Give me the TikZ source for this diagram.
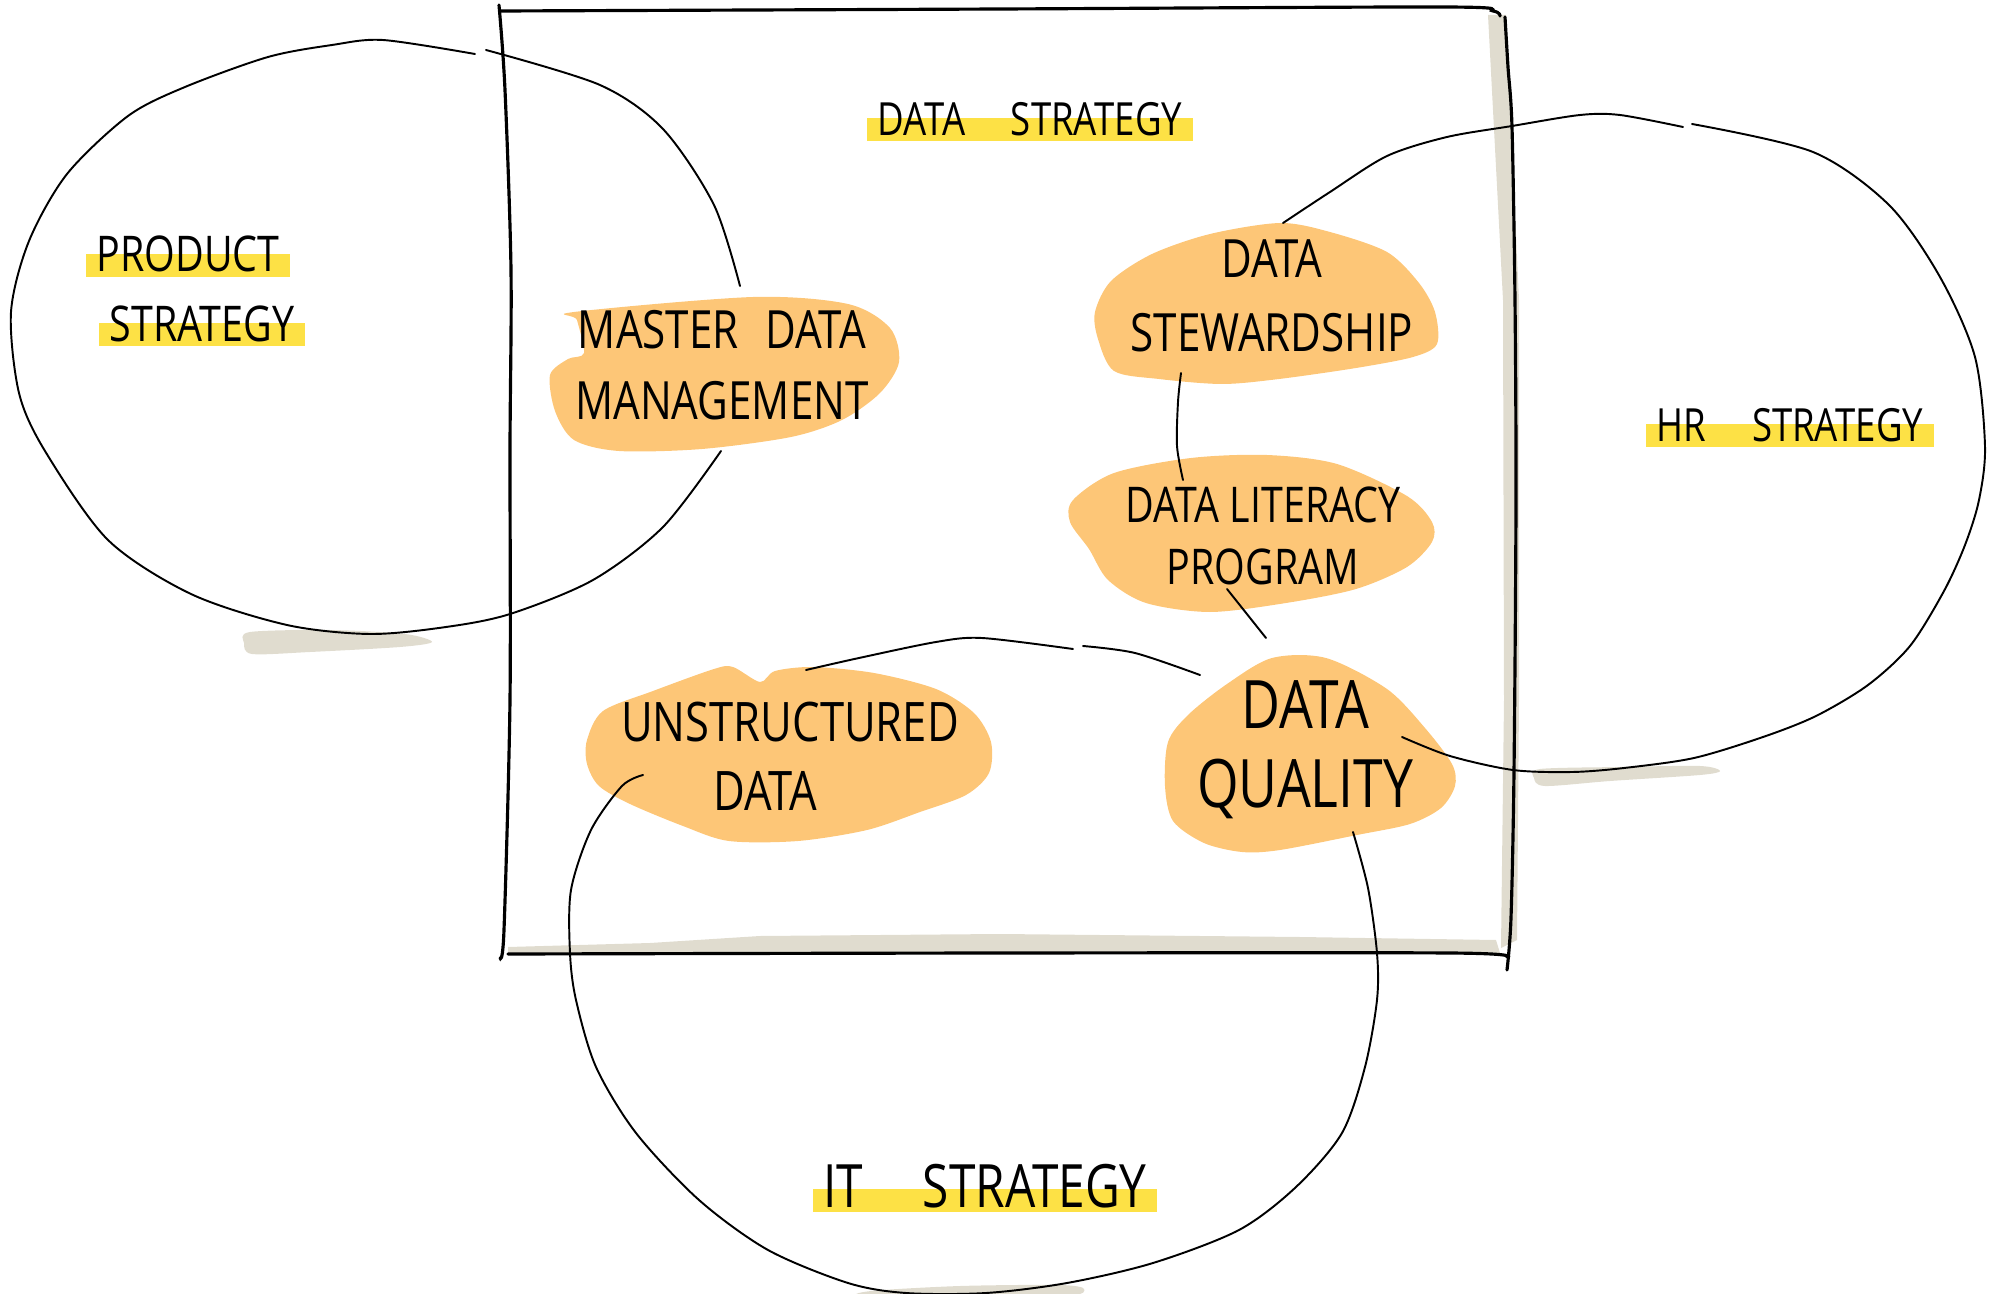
\documentclass[tikz,border=0pt]{standalone}
\usepackage{fontspec}
\newfontfamily\handfont{Open Sans}[FakeStretch=0.8]
\usepackage{tikz}
\definecolor{blobfill}{HTML}{FDC677}
\definecolor{hlyellow}{HTML}{FDE145}
\definecolor{smudge}{HTML}{E0DCCF}
\tikzset{
  sketch/frame/.style={black, line width=0.9pt, line cap=round},
  sketch/loop/.style={black, line width=0.55pt, line cap=round},
  sketch/hand/.style 2 args={font=\handfont\fontsize{#1}{#2}\selectfont, align=center},
  sketch/marker/.style={fill=hlyellow, inner xsep=3pt, inner ysep=0pt, text height=0.5em, text depth=0.15em, anchor=base},
}

\begin{document}
\begin{tikzpicture}[x=0.01cm, y=-0.01cm]
  \useasboundingbox (0,0) rectangle (1996,1294);
\fill[smudge] plot[smooth cycle] coordinates {(250,632) (330,630) (405,634) (432,642) (400,647) (310,652) (252,654) (244,643)};
\fill[smudge] plot[smooth cycle] coordinates {(1540,769) (1620,767) (1700,766) (1720,771) (1700,775) (1610,781) (1545,786) (1534,778)};
\fill[smudge] plot[smooth cycle] coordinates {(871,1291) (960,1286) (1060,1285) (1084,1289) (1060,1296) (871,1296)};
\fill[smudge] (1488,15) -- (1506,15) -- (1519,300) -- (1519,700) -- (1517,940) -- (1501,948) -- (1504,700) -- (1503,300) -- cycle;
\fill[smudge] (508,947) -- (650,943) -- (760,936) -- (1000,934) -- (1300,937) -- (1496,940) -- (1500,953) -- (508,953) -- cycle;
\draw[sketch/frame] plot[smooth] coordinates {(499,5) (505,90) (511,270) (510,450) (510,700) (504,930) (500,958)};
\draw[sketch/frame] plot[smooth] coordinates {(501,11) (1000,9) (1445,7) (1493,11) (1500,16)};
\draw[sketch/frame] plot[smooth] coordinates {(1505,17) (1508,67) (1512,127) (1515,300) (1516,500) (1514,772) (1511,918) (1507,970)};
\draw[sketch/frame] plot[smooth] coordinates {(508,954) (1000,953) (1450,953) (1507,957)};
\fill[blobfill] plot[smooth cycle] coordinates {(574,312) (753,297) (848,304) (890,328) (899,362) (880,393) (842,420) (791,437) (702,449) (619,451) (574,440) (555,411) (550,375) (568,359) (584,353) (577,320)};
\fill[blobfill] plot[smooth cycle] coordinates {(1210,234) (1280,223) (1330,232) (1387,252) (1419,283) (1435,312) (1437,344) (1413,357) (1356,368) (1279,379) (1222,384) (1159,379) (1114,371) (1098,339) (1095,312) (1111,281) (1152,254)};
\fill[blobfill] plot[smooth cycle] coordinates {(1114,473) (1191,458) (1267,455) (1337,464) (1407,496) (1432,522) (1432,542) (1407,567) (1356,589) (1286,603) (1210,612) (1146,603) (1108,580) (1089,549) (1070,522) (1073,500)};
\fill[blobfill] plot[smooth cycle] coordinates {(603,711) (653,691) (714,669) (733,667) (760,682) (775,671) (813,667) (874,673) (936,689) (974,713) (991,742) (989,773) (966,795) (920,812) (867,830) (798,841) (729,841) (683,826) (630,804) (599,786) (587,764) (587,740)};
\fill[blobfill] plot[smooth cycle] coordinates {(1272,658) (1326,658) (1387,689) (1425,728) (1452,764) (1455,786) (1441,808) (1410,824) (1357,835) (1280,850) (1242,852) (1204,843) (1173,821) (1165,786) (1168,742) (1188,715) (1227,684)};
\draw[sketch/loop] plot[smooth] coordinates {(475,54) (383,40) (332,45) (268,57) (185,87) (128,116) (67,174) (29,241) (11,312) (19,393) (45,451) (108,540) (191,594) (287,625) (370,634) (446,627) (510,614) (593,580) (663,527) (721,451)};
\draw[sketch/loop] plot[smooth] coordinates {(486,50) (600,85) (663,129) (714,205) (740,286)};
\draw[sketch/loop] plot[smooth] coordinates {(1283,223) (1330,192) (1387,156) (1447,137) (1512,126) (1580,115) (1620,115) (1683,127)};
\draw[sketch/loop] plot[smooth] coordinates {(1692,124) (1813,152) (1889,205) (1940,277) (1975,357) (1985,446) (1979,500) (1965,545) (1944,591) (1910,646) (1868,685) (1816,716) (1763,737) (1694,758) (1624,768) (1572,772) (1513,770) (1450,756) (1402,737)};
\draw[sketch/loop] plot[smooth] coordinates {(1181,373) (1178,402) (1177,446) (1183,480)};
\draw[sketch/loop] plot[smooth] coordinates {(1227,589) (1266,638)};
\draw[sketch/loop] plot[smooth] coordinates {(1083,646) (1135,653) (1200,675)};
\draw[sketch/loop] plot[smooth] coordinates {(1353,832) (1368,888) (1377,953) (1377,1000) (1365,1067) (1342,1133) (1296,1187) (1239,1230) (1153,1263) (1067,1283) (986,1293) (906,1293) (848,1283) (768,1250) (699,1200) (636,1133) (596,1067) (576,1000) (570,953) (571,890) (591,830) (622,786) (643,775)};
\draw[sketch/loop] plot[smooth] coordinates {(806,670) (859,658) (936,642) (982,638) (1073,649)};
\node[sketch/marker, sketch/hand={13}{16}] (dstrat) at (1030,136) {DATA\quad STRATEGY};
\node[sketch/marker, sketch/hand={14}{17}] (prod) at (188,272) {PRODUCT};
\node[sketch/marker, sketch/hand={14}{17}] (prodstrat) at (202,341) {STRATEGY};
\node[sketch/marker, sketch/hand={13}{16}] (hrstrat) at (1790,442) {HR\quad STRATEGY};
\node[sketch/marker, sketch/hand={17}{20}] (itstrat) at (985,1207) {IT\quad STRATEGY};
\node[sketch/hand={15}{20}] (mdm) at (722,365) {MASTER\enspace DATA\\MANAGEMENT};
\node[sketch/hand={15}{21}] (stew) at (1272,296) {DATA\\STEWARDSHIP};
\node[sketch/hand={14}{17.5}] (lit) at (1263,536) {DATA LITERACY\\PROGRAM};
\node[sketch/hand={15.5}{19.5}] (unstr) at (790,756) {UNSTRUCTURED\\DATA\hspace*{0.9em}};
\node[sketch/hand={19}{22.5}] (qual) at (1305,750) {DATA\\QUALITY};
\end{tikzpicture}
\end{document}
